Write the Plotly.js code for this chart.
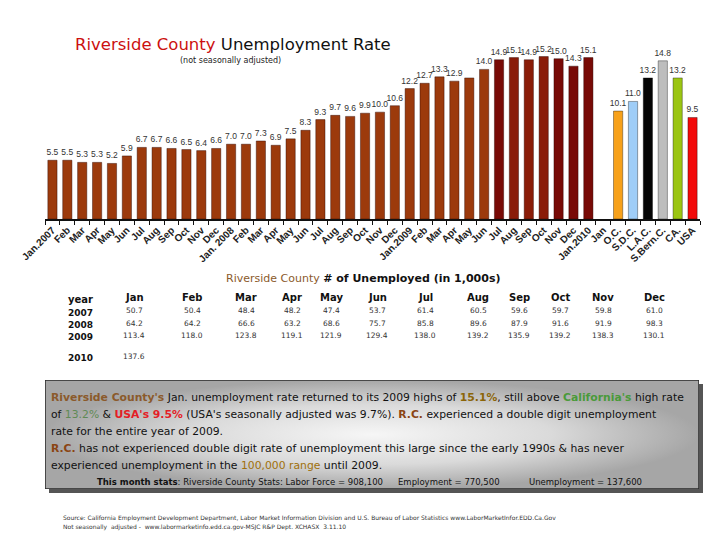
<!DOCTYPE html>
<html>
<head>
<meta charset="utf-8">
<script src="https://cdn.plot.ly/plotly-3.0.1.min.js"></script>
<style>html,body{margin:0;padding:0;background:#fff;}#chart{width:720px;height:540px;}</style>
</head>
<body>
<div id="chart"></div>
<script>
// ---------- DATA ----------
const axisLabels = ['Jan.2007','Feb','Mar','Apr','May','Jun','Jul','Aug','Sep','Oct','Nov','Dec',
  'Jan. 2008','Feb','Mar','Apr','May','Jun','Jul','Aug','Sep','Oct','Nov','Dec',
  'Jan.2009','Feb','Mar','Apr','May','Jun','Jul','Aug','Sep','Oct','Nov','Dec',
  'Jan.2010','Jan','O.C.','S.D.C.','L.A.C.','S.Bern.C.','CA.','USA'];
const rates2007 = [5.5,5.5,5.3,5.3,5.2,5.9,6.7,6.7,6.6,6.5,6.4,6.6];
const rates2008 = [7.0,7.0,7.3,6.9,7.5,8.3,9.3,9.7,9.6,9.9,10.0,10.6];
const rates2009 = [12.2,12.7,13.3,12.9,13.2,14.0,14.9,15.1,14.9,15.2,15.0,14.3];
const rates2010 = [15.1];
const regions = ['O.C.','S.D.C.','L.A.C.','S.Bern.C.','CA.','USA'];
const regionRates = [10.1,11.0,13.2,14.8,13.2,9.5];

const tableMonths = ['Jan','Feb','Mar','Apr','May','Jun','Jul','Aug','Sep','Oct','Nov','Dec'];
const tableYears = ['2007','2008','2009','2010'];
const unemp2007 = ['50.7','50.4','48.4','48.2','47.4','53.7','61.4','60.5','59.6','59.7','59.8','61.0'];
const unemp2008 = ['64.2','64.2','66.6','63.2','68.6','75.7','85.8','89.6','87.9','91.6','91.9','98.3'];
const unemp2009 = ['113.4','118.0','123.8','119.1','121.9','129.4','138.0','139.2','135.9','139.2','138.3','130.1'];
const unemp2010 = ['137.6'];

// ---------- STYLE / LAYOUT HELPERS ----------
const L = 45, R = 20, T = 10, B = 10, W = 720, H = 540;
const pw = W - L - R, ph = H - T - B;
const px = x => (x - L) / pw;
const py = y => (H - B - y) / ph;

const monthly = rates2007.concat(rates2008, rates2009, rates2010);
const monthlyX = monthly.map((_, i) => i);
const regionX = regions.map((_, i) => monthly.length + 1 + i);
const hiddenLabelIdx = [28];
const darkIdx = [30, 34, 35, 36];
const midIdx = [31, 32, 33];
const monthlyColors = monthly.map((_, i) => darkIdx.includes(i) ? '#780a06' : (midIdx.includes(i) ? '#8a1c08' : '#9c3a0c'));
const regionColors = ['#f7a11a','#9fcdf7','#050505','#bdbdbd','#9bc512','#f20a0a'];

const barFont = {family:'Liberation Sans, Arial', size:8.5, color:'#333'};

const traces = [
  {type:'bar', x:monthlyX, y:monthly, width:0.62,
   text: monthly.map((v,i)=> hiddenLabelIdx.includes(i) ? '' : v.toFixed(1)),
   textposition:'outside', textfont:barFont, cliponaxis:false, constraintext:'none',
   marker:{color:monthlyColors, line:{color:'rgba(40,5,0,0.6)', width:0.7}}, hoverinfo:'skip'},
  {type:'bar', x:regionX, y:regionRates, width:0.62,
   text: regionRates.map(v=>v.toFixed(1)),
   textposition:'outside', textfont:barFont, cliponaxis:false, constraintext:'none',
   marker:{color:regionColors, line:{color:'rgba(0,0,0,0.5)', width:0.7}}, hoverinfo:'skip'},
  {type:'scatter', mode:'lines', xaxis:'x2', yaxis:'y2',
   x:[0,1,1,0,0], y:[0,0,1,1,0], fill:'toself',
   fillgradient:{type:'radial', colorscale:[[0,'#f6f6f6'],[0.55,'#dadada'],[1,'#a6a6a6']]},
   line:{color:'#2a2a2a', width:1.5}, hoverinfo:'skip', showlegend:false}
];

const annotations = [];
function ann(text, x, y, opts) {
  annotations.push(Object.assign({text, x:px(x), y:py(y), xref:'paper', yref:'paper',
    showarrow:false, xanchor:'center', yanchor:'middle',
    font:{family:'DejaVu Sans', size:10, color:'#111'}}, opts || {}));
}

// title
ann('<span style="color:#cc1010">Riverside County</span> Unemployment Rate', 233, 45,
  {font:{family:'DejaVu Sans', size:16.5, color:'#111'}});
ann('(not seasonally adjusted)', 230, 61, {font:{family:'DejaVu Sans', size:8, color:'#222'}});

// table
ann('<span style="color:#8b5a2b">Riverside County</span> <b># of Unemployed (in 1,000s)</b>', 363, 279,
  {font:{family:'DejaVu Sans', size:11, color:'#111'}});
const colX = [134,192,246,292,331,377,425,478,519,560,603,654];
ann('<b>year</b>', 66, 299, {xanchor:'left', font:{family:'DejaVu Sans', size:10, color:'#111'}});
tableMonths.forEach((m,i)=> ann('<b>'+m+'</b>', colX[i], 297, {font:{family:'DejaVu Sans', size:10, color:'#111'}}));
const rowsY = [313, 325, 337, 358];
[unemp2007, unemp2008, unemp2009, unemp2010].forEach((row, r) => {
  ann('<b>'+tableYears[r]+'</b>', 66, rowsY[r], {xanchor:'left', font:{family:'DejaVu Sans', size:9, color:'#111'}});
  row.forEach((v,i)=> ann(v, colX[i], rowsY[r]-2, {font:{family:'DejaVu Sans', size:7.5, color:'#333'}}));
});

// text box
const boxFont = {family:'DejaVu Sans', size:10.8, color:'#111'};
const lines = [
  '<span style="color:#8b5a2b"><b>Riverside County\'s</b></span> Jan. unemployment rate returned to its 2009 highs of <span style="color:#8b6508"><b>15.1%</b></span>, still above <span style="color:#4a9a3a"><b>California\'s</b></span> high rate',
  'of <span style="color:#5f8a55">13.2%</span> &amp; <span style="color:#e41e26"><b>USA\'s 9.5%</b></span> (USA\'s seasonally adjusted was 9.7%). <span style="color:#8b4513"><b>R.C.</b></span> experienced a double digit unemployment',
  'rate for the entire year of 2009.',
  '<span style="color:#8b4513"><b>R.C.</b></span> has not experienced double digit rate of unemployment this large since the early 1990s &amp; has never',
  'experienced unemployment in the <span style="color:#a0700a">100,000 range</span> until 2009.'
];
const lineY = [397, 414, 431, 448, 465];
lines.forEach((t,i)=> ann(t, 49, lineY[i], {xanchor:'left', font:boxFont}));
const statFont = {family:'DejaVu Sans', size:8.5, color:'#111'};
ann('<b>This month stats</b>: Riverside County Stats: Labor Force = 908,100', 95, 482, {xanchor:'left', font:statFont});
ann('Employment = 770,500', 396, 482, {xanchor:'left', font:statFont});
ann('Unemployment = 137,600', 527, 482, {xanchor:'left', font:statFont});

// footer
const footFont = {family:'DejaVu Sans', size:6, color:'#333'};
ann('Source: California Employment Development Department, Labor Market Information Division and U.S. Bureau of Labor Statistics www.LaborMarketInfor.EDD.Ca.Gov', 61, 518, {xanchor:'left', font:footFont});
ann('Not seasonally  adjusted -  www.labormarketinfo.edd.ca.gov-MSJC R&amp;P Dept. XCHASX  3.11.10', 61, 527, {xanchor:'left', font:footFont});

const shapes = [
  {type:'rect', xref:'paper', yref:'paper', x0:px(49), x1:px(703), y0:py(493), y1:py(384),
   fillcolor:'#555', line:{width:0}, layer:'below'}
];

const layout = {
  width:W, height:H, margin:{l:L, r:R, t:T, b:B},
  paper_bgcolor:'#fff', plot_bgcolor:'rgba(0,0,0,0)',
  showlegend:false, barmode:'overlay',
  xaxis:{domain:[0,1], anchor:'y', range:[-0.5, axisLabels.length-0.5], tickmode:'array',
    tickvals: axisLabels.map((_,i)=>i), ticktext: axisLabels, tickangle:-45,
    ticks:'', showgrid:false, zeroline:false, showline:true, linecolor:'#111', linewidth:1.5,
    tickfont:{family:'Liberation Sans, Arial', size:10, color:'#222', weight:'bold'},
    minor:{tick0:-0.5, dtick:1, ticks:'outside', ticklen:4, tickcolor:'#111', tickwidth:1, showgrid:false}},
  yaxis:{domain:[py(219), py(48)], range:[0,16], visible:false, fixedrange:true},
  xaxis2:{domain:[px(45), px(699)], anchor:'y2', range:[0,1], visible:false},
  yaxis2:{domain:[py(489), py(380)], anchor:'x2', range:[0,1], visible:false},
  annotations, shapes
};

Plotly.newPlot('chart', traces, layout, {displayModeBar:false, staticPlot:true});
</script>
</body>
</html>
